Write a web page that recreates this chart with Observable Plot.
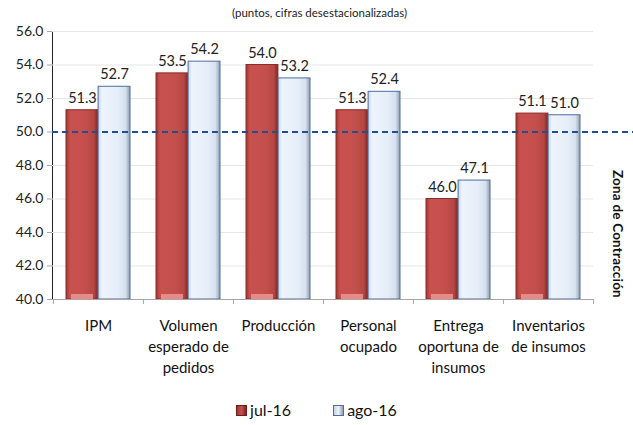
<!DOCTYPE html>
<html><head><meta charset="utf-8">
<script src="https://cdn.jsdelivr.net/npm/d3@7"></script>
<script src="https://cdn.jsdelivr.net/npm/@observablehq/plot@0.6"></script>
<style>
body{margin:0;background:#fff;font-family:Lato,"Open Sans",sans-serif;}
#wrap{position:relative;width:633px;height:425px;overflow:hidden;background:#fff}
#sub{height:22px;line-height:26px;text-align:center;font-size:11.5px;color:#222;padding-left:6px}
#zona{position:absolute;left:610px;top:170px;writing-mode:vertical-rl;font-weight:bold;font-size:13.5px;color:#111;letter-spacing:0.2px}
#legend{position:absolute;top:398px;left:0;width:633px;display:flex;justify-content:center;gap:42px;font-size:16px;color:#111;line-height:24px}
#legend span.item{display:flex;align-items:center;gap:3px}
#legend i{display:inline-block;width:9px;height:9px;border:1px solid #555}
svg [aria-label^="y-axis"] path, svg [aria-label^="y-axis"] line{stroke:#a6a6a6}
</style></head>
<body><div id="wrap">
<div id="sub">(puntos, cifras desestacionalizadas)</div>
<div id="chart"></div>
<div id="zona">Zona de Contracción</div>
<div id="legend"></div>
</div>
<script>
const categories = ["IPM","Volumen\nesperado de\npedidos","Producción","Personal\nocupado","Entrega\noportuna de\ninsumos","Inventarios\nde insumos"];
const series = ["jul-16","ago-16"];
const jul16 = [51.3,53.5,54.0,51.3,46.0,51.1];
const ago16 = [52.7,54.2,53.2,52.4,47.1,51.0];
const yTicks = [40,42,44,46,48,50,52,54,56];
const threshold = 50;

const W=633, H=372, ML=52, MR=40, MT=9, MB=95;
const bw = (W-ML-MR)/categories.length;
const pad = 13;
const half = bw/2;
const base = yTicks[0];

const rows = categories.map((c,i)=>({cat:c, jul:jul16[i], ago:ago16[i]}));
const fmt = d3.format(".1f");

const plot = Plot.plot({
  width: W, height: H,
  marginLeft: ML, marginRight: MR, marginTop: MT, marginBottom: MB,
  style: {fontFamily: "Lato, 'Open Sans', sans-serif", fontSize: "14px", color: "#222", background: "#fff", overflow: "visible"},
  x: {domain: categories, padding: 0, axis: null},
  y: {domain: [yTicks[0], yTicks[yTicks.length-1]], ticks: yTicks, tickFormat: fmt, tickSize: 5, tickPadding: 4, line: true, label: null},
  marks: [
    Plot.ruleY(yTicks.slice(1), {stroke: "#e6e6e6", strokeWidth: 1}),
    Plot.barY(rows, {x: "cat", y1: base, y2: "jul", fill: "url(#gradRed)", stroke: "#8a2c29", strokeWidth: 1, insetLeft: pad, insetRight: half}),
    Plot.barY(rows, {x: "cat", y1: base, y2: "ago", fill: "url(#gradBlue)", stroke: "#4d6e9e", strokeWidth: 1, insetLeft: half, insetRight: pad}),
    Plot.barY(rows, {x: "cat", y1: base, y2: d => base + 0.3, fill: "#e98a8a", insetLeft: pad + 5, insetRight: half + 5}),
    Plot.ruleY([threshold], {stroke: "#1f4f8f", strokeWidth: 2, strokeDasharray: "6,4", insetRight: -MR}),
    Plot.ruleY([base], {stroke: "#a6a6a6"}),
    Plot.ruleX(categories, {x: d => d, y1: base, y2: base, dx: -half, insetBottom: -5, stroke: "#a6a6a6"}),
    Plot.ruleX(categories.slice(-1), {x: d => d, y1: base, y2: base, dx: half, insetBottom: -5, stroke: "#a6a6a6"}),
    Plot.text(rows, {x: "cat", y: "jul", text: d => fmt(d.jul), dx: -(half - pad)/2, dy: -12, fontSize: 14.5, fill: "#222"}),
    Plot.text(rows, {x: "cat", y: "ago", text: d => fmt(d.ago), dx: (half - pad)/2, dy: -12, fontSize: 14.5, fill: "#222"}),
    Plot.text(categories, {x: d => d, text: d => d, frameAnchor: "bottom", lineAnchor: "top", dy: 16, lineHeight: 1.42, fontSize: 15, fill: "#111"})
  ]
});

const defs = d3.select(plot).insert("defs", ":first-child");
const gr = defs.append("linearGradient").attr("id","gradRed").attr("x1","0").attr("x2","1").attr("y1","0").attr("y2","0");
[["0%","#9e3532"],["12%","#c8514e"],["60%","#c4504d"],["88%","#b54643"],["100%","#7a2422"]].forEach(([o,c])=>gr.append("stop").attr("offset",o).attr("stop-color",c));
const gb = defs.append("linearGradient").attr("id","gradBlue").attr("x1","0").attr("x2","1").attr("y1","0").attr("y2","0");
[["0%","#c5d2e3"],["12%","#eef4fc"],["60%","#e6eef9"],["86%","#d6e1ef"],["100%","#8f9db0"]].forEach(([o,c])=>gb.append("stop").attr("offset",o).attr("stop-color",c));

document.getElementById("chart").appendChild(plot);

const lg = d3.select("#legend");
series.forEach(s => {
  const it = lg.append("span").attr("class","item");
  it.append("i").style("background", s === "jul-16" ? "linear-gradient(90deg,#9e3532,#c8514e,#7a2422)" : "linear-gradient(90deg,#c5d2e3,#eef4fc,#8f9db0)").style("border-color", s === "jul-16" ? "#6a1f1d" : "#4d6e9e");
  it.append("span").text(s);
});
</script>
</body></html>
